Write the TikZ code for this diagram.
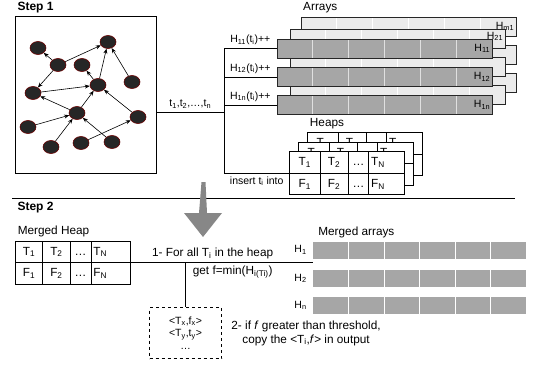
\documentclass[tikz,border=0pt]{standalone}
\usepackage{fontspec}
\setmainfont{Liberation Sans}
\usepackage{array}
\usetikzlibrary{shapes.geometric, arrows.meta, positioning, calc}

\newcommand{\subtxt}[1]{\textsubscript{#1}}
\newcommand{\heaptab}[5]{%
  \setlength{\tabcolsep}{0pt}\setlength{\arrayrulewidth}{0.8pt}%
  \begin{tabular}{w{c}{#1}|w{c}{#2}|w{c}{#3}|w{l}{#4}}
    \rule[-7pt]{0pt}{21pt}T\subtxt{1} & T\subtxt{2} & \dots & \,T\subtxt{N} \\ \hline
    \rule[-7pt]{0pt}{21pt}#5
  \end{tabular}}
\newcommand{\frow}{F\subtxt{1} & F\subtxt{2} & \dots & \,F\subtxt{N}}

\begin{document}
\begin{tikzpicture}[
    x=1pt, y=-1pt,
    font=\fontsize{11.8}{14}\selectfont,
    gnode/.style={ellipse, fill=black!85, draw=red!40!black, line width=0.6pt, minimum width=16pt, minimum height=13pt, inner sep=0pt},
    link/.style={-{Stealth[length=5pt, width=4pt]}, line width=0.6pt},
    wire/.style={line width=0.8pt},
    smalltxt/.style={font=\fontsize{10.5}{12}\selectfont},
    cells/.style={path picture={\foreach \k in {1,...,5}
        \draw[#1, line width=0.8pt] ($(path picture bounding box.north west)!\k/6!(path picture bounding box.north east)$)
          -- ($(path picture bounding box.south west)!\k/6!(path picture bounding box.south east)$);}},
    frontarr/.style={draw=black!85, line width=0.8pt, fill=black!35, minimum width=215pt, minimum height=19pt, inner sep=0pt, cells=black!12},
    backarr/.style={draw=black!85, line width=0.6pt, fill=black!8, minimum width=215pt, minimum height=19pt, inner sep=0pt, cells=white},
    mergedarr/.style={fill=black!35, minimum width=213pt, minimum height=17pt, inner sep=0pt, cells=white},
    heap/.style={draw, fill=white, line width=0.8pt, inner sep=0pt},
    steplbl/.style={font=\fontsize{12}{14}\selectfont\bfseries, anchor=west},
]
    \useasboundingbox (0,0) rectangle (534,366);

    \node[steplbl] (step1) at (14,8) {Step 1};
    \node[draw, line width=1pt, minimum width=141pt, minimum height=156pt] (graphbox) at (85.5,95) {};

    \foreach \n/\x/\y in {1/38/48, 2/108/42, 3/58/65, 4/82/65, 5/132/82, 6/98/85, 7/33/93,
        8/77/113, 9/138/117, 10/28/127, 11/51/147, 12/81/143, 13/112/142}
        \node[gnode] (g\n) at (\x,\y) {};
    \foreach \a/\b in {3/1, 3/2, 3/7, 7/6, 6/2, 6/4, 5/2, 8/6, 8/7, 10/8, 11/8, 13/8, 12/9, 9/6}
        \draw[link] (g\a) -- (g\b);

    \foreach \r/\y in {1/48.5, 2/77, 3/105}
        \node[backarr] (am\r) at (408.5,\y-22) {};
    \node[anchor=east, inner sep=2pt, smalltxt] (lblm1) at (am1.east) {H\subtxt{m1}};
    \foreach \r/\y in {1/48.5, 2/77, 3/105}
        \node[backarr] (a2\r) at (397.5,\y-10) {};
    \node[anchor=east, inner sep=2pt, yshift=2pt, smalltxt] (lbl21) at (a21.east) {H\subtxt{21}};
    \foreach \r/\y/\s in {1/48.5/11, 2/77/12, 3/105/1n} {
        \node[frontarr] (a1\r) at (384.5,\y) {};
        \node[anchor=east, inner sep=2pt, smalltxt] (lbl1\r) at (a1\r.east) {H\subtxt{\s}};
    }
    \node[above right=0pt and -1pt of am1.north west] (arrayslbl) {Arrays};

    \node[heap] (heap3) at (365,154) {\heaptab{30pt}{27pt}{20pt}{35pt}{&&&}};
    \node[heap] (heap2) at (356,163.5) {\heaptab{30pt}{27pt}{20pt}{35pt}{&&&}};
    \node[heap] (heap1) at (347,173) {\heaptab{30pt}{27pt}{20pt}{35pt}{\frow}};
    \node[above right=0pt and -1pt of heap3.north west] (heapslbl) {Heaps};

    \coordinate (trunk) at (224,112);
    \draw[wire] (graphbox.east |- trunk) -- node[above, smalltxt] {t\subtxt{1},t\subtxt{2},\dots,t\subtxt{n}} (trunk);
    \foreach \r/\s in {1/11, 2/12, 3/1n}
        \draw[wire] (trunk) |- node[pos=0.75, above, smalltxt] {H\subtxt{\s}(t\subtxt{i})++} (a1\r.west);
    \draw[wire] (trunk) |- node[pos=0.75, below, smalltxt] {insert t\subtxt{i} into} (heap1.west);

    \draw[wire] (12,198) -- (515,198);
    \fill[black!47] (201.5,182) -- (205.5,182) -- (207,213) -- (222,213) -- (203,237) -- (184,213) -- (199,213) -- cycle;

    \node[steplbl] (step2) at (14,208) {Step 2};
    \node[heap] (mheap) at (73,262.5) {\heaptab{26.6pt}{26.7pt}{20pt}{39pt}{\frow}};
    \node[above right=0pt and -1pt of mheap.north west] (mheaplbl) {Merged Heap};

    \foreach \r/\y/\s in {1/250/1, 2/278.3/2, 3/305.5/n} {
        \node[mergedarr] (m\r) at (419.5,\y) {};
        \node[left=5pt of m\r, inner sep=1pt, smalltxt] (mlbl\r) {H\subtxt{\s}};
    }
    \node[above right=0pt and 2pt of m1.north west] (marrlbl) {Merged arrays};

    \node[draw, dashed, line width=0.8pt, minimum width=72pt, minimum height=51pt, align=center,
        font=\fontsize{10.5}{12.5}\selectfont] (outbox) at (185.5,333)
        {<T\subtxt{x},f\subtxt{x}>\\<T\subtxt{y},t\subtxt{y}>\\\dots};
    \draw[wire] (mheap.east) -- node[pos=0.45, above] {1- For all T\subtxt{i} in the heap}
        node[pos=0.56, below] {get f=min(H\subtxt{i(Ti)})} (m1.west |- mheap.east);
    \draw[wire] (outbox.north |- mheap.east) -- (outbox.north);
    \node[right=6pt of outbox, align=center] (rule2)
        {2- if \textit{f} greater than threshold,\\copy the <T\subtxt{i},\textit{f}> in output};
\end{tikzpicture}
\end{document}
